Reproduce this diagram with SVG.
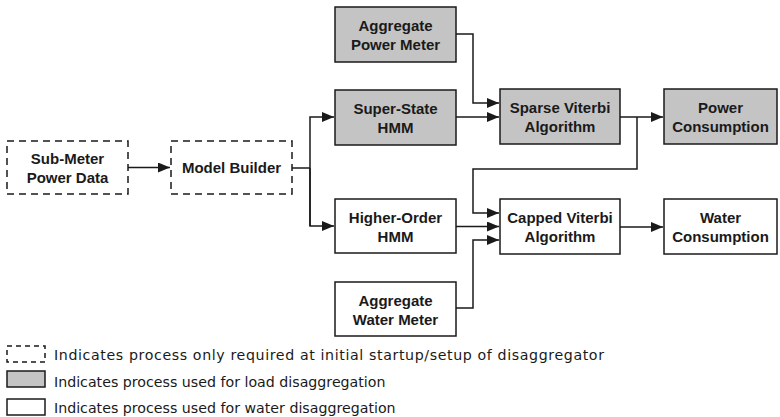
<svg xmlns="http://www.w3.org/2000/svg" width="780" height="417" viewBox="0 0 780 417">
<defs>
<marker id="arr" markerWidth="12" markerHeight="10" refX="12" refY="5" orient="auto" markerUnits="userSpaceOnUse">
<path d="M0,0 L12,5 L0,10 Z" fill="#1a1a1a"/>
</marker>
</defs>
<style>
.box{stroke:#1a1a1a;stroke-width:1.5}
.grey{fill:#c4c4c4}
.white{fill:#ffffff}
.dash{fill:#ffffff;stroke-dasharray:7,5}
.lbl{font-family:"Liberation Sans",Arial,sans-serif;font-size:15px;font-weight:bold;fill:#1a1a1a;text-anchor:middle}
.leg{font-family:"DejaVu Sans",sans-serif;font-size:14.2px;fill:#1a1a1a}
.con{fill:none;stroke:#1a1a1a;stroke-width:1.5}
</style>
<rect width="780" height="417" fill="#ffffff"/>
<g id="sub-meter">
<rect class="box dash" x="7" y="141" width="121" height="53"/>
<text class="lbl" x="67.5" y="164">Sub-Meter</text>
<text class="lbl" x="67.5" y="183">Power Data</text>
</g>
<g id="model-builder">
<rect class="box dash" x="171" y="141" width="121" height="53"/>
<text class="lbl" x="231.5" y="173">Model Builder</text>
</g>
<g id="agg-power">
<rect class="box grey" x="335" y="7" width="121" height="55"/>
<text class="lbl" x="395.5" y="31">Aggregate</text>
<text class="lbl" x="395.5" y="50">Power Meter</text>
</g>
<g id="super-state">
<rect class="box grey" x="335" y="90" width="121" height="55"/>
<text class="lbl" x="395.5" y="114">Super-State</text>
<text class="lbl" x="395.5" y="133">HMM</text>
</g>
<g id="sparse-viterbi">
<rect class="box grey" x="500" y="89" width="120" height="55"/>
<text class="lbl" x="560" y="113">Sparse Viterbi</text>
<text class="lbl" x="560" y="132">Algorithm</text>
</g>
<g id="power-consumption">
<rect class="box grey" x="664" y="89" width="113" height="55"/>
<text class="lbl" x="720.5" y="113">Power</text>
<text class="lbl" x="720.5" y="132">Consumption</text>
</g>
<g id="higher-order">
<rect class="box white" x="335" y="199" width="121" height="54"/>
<text class="lbl" x="395.5" y="223">Higher-Order</text>
<text class="lbl" x="395.5" y="242">HMM</text>
</g>
<g id="capped-viterbi">
<rect class="box white" x="500" y="199" width="120" height="55"/>
<text class="lbl" x="560" y="223">Capped Viterbi</text>
<text class="lbl" x="560" y="242">Algorithm</text>
</g>
<g id="water-consumption">
<rect class="box white" x="664" y="199" width="113" height="55"/>
<text class="lbl" x="720.5" y="223">Water</text>
<text class="lbl" x="720.5" y="242">Consumption</text>
</g>
<g id="agg-water">
<rect class="box white" x="335" y="282" width="121" height="54"/>
<text class="lbl" x="395.5" y="306">Aggregate</text>
<text class="lbl" x="395.5" y="325">Water Meter</text>
</g>
<g id="connectors">
<path class="con" d="M128,167.5 H170" marker-end="url(#arr)"/>
<path class="con" d="M292,168 H310"/>
<path class="con" d="M310,226 V117 H334" marker-end="url(#arr)"/>
<path class="con" d="M310,168 V226 H334" marker-end="url(#arr)"/>
<path class="con" d="M456,34 H473 V103 H499" marker-end="url(#arr)"/>
<path class="con" d="M456,117 H499" marker-end="url(#arr)"/>
<path class="con" d="M620,117 H663" marker-end="url(#arr)"/>
<path class="con" d="M637,117 V169 H473 V213 H499" marker-end="url(#arr)"/>
<path class="con" d="M456,226.5 H499" marker-end="url(#arr)"/>
<path class="con" d="M456,308 H473 V240 H499" marker-end="url(#arr)"/>
<path class="con" d="M620,227 H663" marker-end="url(#arr)"/>
</g>
<g id="legend">
<rect class="box dash" x="7" y="346" width="38" height="16" style="stroke-dasharray:5,4"/>
<text class="leg" x="54" y="360" textLength="550" lengthAdjust="spacing">Indicates process only required at initial startup/setup of disaggregator</text>
<rect class="box grey" x="7" y="371" width="38" height="16"/>
<text class="leg" x="54" y="387">Indicates process used for load disaggregation</text>
<rect class="box white" x="7" y="399" width="38" height="16"/>
<text class="leg" x="54" y="413">Indicates process used for water disaggregation</text>
</g>
</svg>
